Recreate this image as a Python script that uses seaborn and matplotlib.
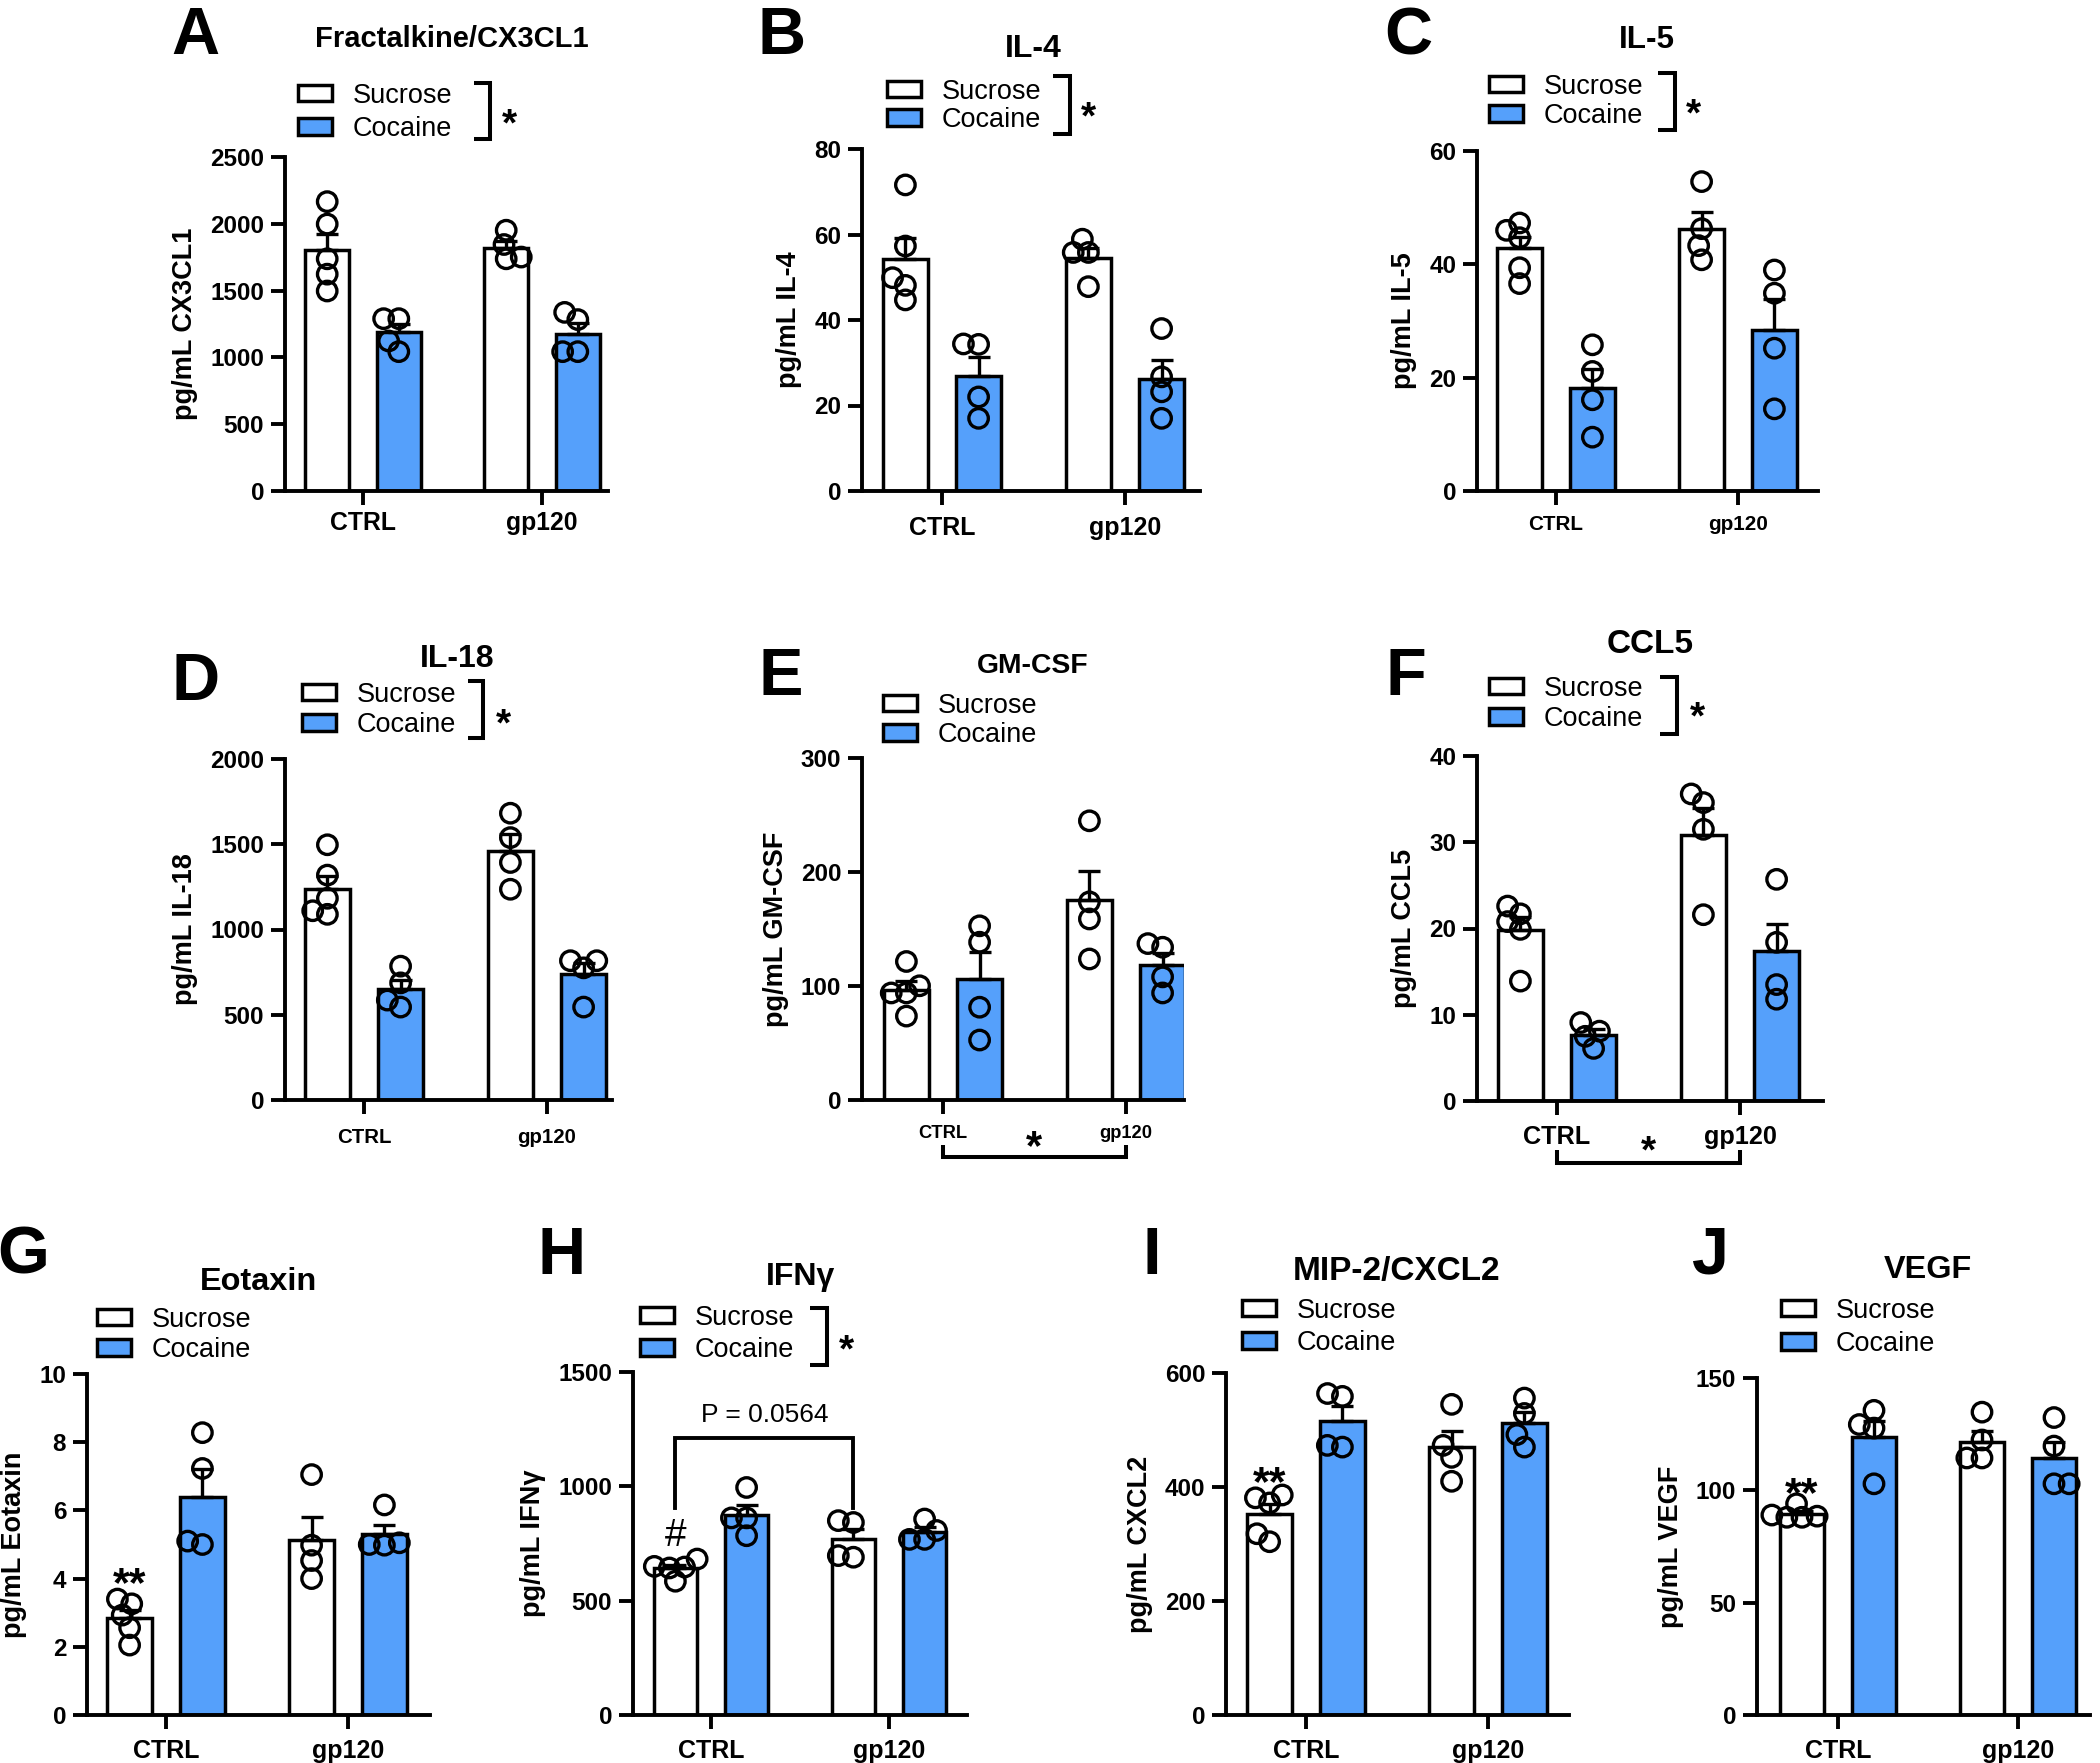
import numpy as np
import pandas as pd
import matplotlib
matplotlib.use("Agg")
import matplotlib.pyplot as plt
from matplotlib.lines import Line2D
from matplotlib.patches import Patch
from matplotlib.transforms import Affine2D, offset_copy, blended_transform_factory
import seaborn as sns

plt.rcParams["font.family"] = ["Liberation Sans", "DejaVu Sans"]
plt.rcParams["font.weight"] = "bold"
plt.rcParams["axes.labelweight"] = "bold"

W, H = 2100, 1763
BLUE = "#55A0FB"
groups = ["CTRL", "gp120"]
treatments = ["Sucrose", "Cocaine"]
palette = {"Sucrose": "white", "Cocaine": BLUE}

# individual animals: [CTRL points, gp120 points]
cx3cl1_sucrose = [[2166, 1998, 1738, 1623, 1497], [1845, 1952, 1738, 1751]]
cx3cl1_cocaine = [[1290, 1290, 1043, 1123], [1283, 1337, 1043, 1043]]
il4_sucrose = [[71.6, 57.3, 49.9, 48.1, 44.7], [58.9, 55.8, 55.8, 47.8]]
il4_cocaine = [[34.3, 34.4, 22.0, 17.0], [38.0, 26.7, 23.2, 17.0]]
il5_sucrose = [[47.3, 46.0, 44.7, 39.4, 36.6], [54.6, 46.3, 43.3, 40.8]]
il5_cocaine = [[25.8, 21.1, 16.1, 9.5], [39.0, 34.9, 25.2, 14.5]]
il18_sucrose = [[1497, 1319, 1183, 1089, 1110], [1682, 1539, 1393, 1236]]
il18_cocaine = [[785, 687, 545, 586], [817, 817, 775, 545]]
gmcsf_sucrose = [[121.5, 100.2, 93.9, 93.9, 73.6], [244.9, 173.8, 158.8, 123.7]]
gmcsf_cocaine = [[152.8, 138.4, 81.4, 52.6], [134.0, 137.2, 108.0, 93.9]]
ccl5_sucrose = [[22.6, 21.7, 20.8, 19.9, 13.9], [35.6, 34.6, 31.5, 21.6]]
ccl5_cocaine = [[9.1, 8.1, 7.5, 6.1], [25.7, 18.4, 13.5, 11.8]]
eotaxin_sucrose = [[3.4, 3.26, 2.93, 2.56, 2.05], [7.05, 4.98, 4.53, 4.0]]
eotaxin_cocaine = [[8.28, 7.23, 5.0, 5.1], [6.16, 5.0, 5.05, 4.98]]
ifng_sucrose = [[682, 650, 647, 643, 585], [842, 850, 690, 697]]
ifng_cocaine = [[995, 862, 862, 784], [857, 807, 768, 768]]
cxcl2_sucrose = [[386, 381, 372, 318, 304], [545, 473, 452, 410]]
cxcl2_cocaine = [[559, 564, 470, 473], [556, 529, 492, 470]]
vegf_sucrose = [[94, 89, 88.5, 88, 88], [134.8, 122.4, 114.4, 114.4]]
vegf_cocaine = [[135.6, 129.3, 127.7, 102.9], [132.4, 119.7, 102.9, 102.9]]

# layout, in reference pixels (from the top-left corner)
panels = [
    dict(letter="A", title="Fractalkine/CX3CL1", ylabel="pg/mL CX3CL1", sucrose=cx3cl1_sucrose, cocaine=cx3cl1_cocaine,
         ymax=2500, ystep=500, rect=(285, 157, 608, 491), cats=(363, 542), title_at=(452, 36.5, 21),
         letter_at=(195, 30), legend=(298, 112.5, 33), bracket=(490, 83, 139, 16, 509, 114), xtick=(17.8, 4.5)),
    dict(letter="B", title="IL-4", ylabel="pg/mL IL-4", sucrose=il4_sucrose, cocaine=il4_cocaine,
         ymax=80, ystep=20, rect=(862, 149, 1200, 491), cats=(942, 1125), title_at=(1033, 46, 23),
         letter_at=(782, 30), legend=(887, 106, 28), bracket=(1070, 76, 134, 17, 1088, 107), xtick=(18, 8)),
    dict(letter="C", title="IL-5", ylabel="pg/mL IL-5", sucrose=il5_sucrose, cocaine=il5_cocaine,
         ymax=60, ystep=20, rect=(1477, 151, 1818, 491), cats=(1556, 1738), title_at=(1647, 36.5, 22.6),
         letter_at=(1408, 31), legend=(1489, 101.5, 29), bracket=(1675, 73, 130, 17, 1693, 104), xtick=(14.9, 7)),
    dict(letter="D", title="IL-18", ylabel="pg/mL IL-18", sucrose=il18_sucrose, cocaine=il18_cocaine,
         ymax=2000, ystep=500, rect=(285, 759, 612, 1100), cats=(364, 547), title_at=(457, 656, 23),
         letter_at=(196, 676), legend=(302, 710, 30), bracket=(483, 681, 738, 15, 503, 714), xtick=(14.7, 10)),
    dict(letter="E", title="GM-CSF", ylabel="pg/mL GM-CSF", sucrose=gmcsf_sucrose, cocaine=gmcsf_cocaine,
         ymax=300, ystep=100, rect=(862, 758, 1184, 1100), cats=(943, 1126), title_at=(1033, 663, 20.4),
         letter_at=(781, 671), legend=(883, 720.5, 29), bracket=None, xtick=(13.2, 8),
         below=(1145, 1157, 1136, 30)),
    dict(letter="F", title="CCL5", ylabel="pg/mL CCL5", sucrose=ccl5_sucrose, cocaine=ccl5_cocaine,
         ymax=40, ystep=10, rect=(1477, 756, 1823, 1101), cats=(1557, 1740), title_at=(1650, 641, 24),
         letter_at=(1406, 671), legend=(1489, 704, 30), bracket=(1677, 677, 734, 17, 1697, 707), xtick=(18.2, 7),
         below=(1150, 1163, 1141, 28)),
    dict(letter="G", title="Eotaxin", ylabel="pg/mL Eotaxin", sucrose=eotaxin_sucrose, cocaine=eotaxin_cocaine,
         ymax=10, ystep=2, rect=(87, 1374, 430, 1715), cats=(166, 348), title_at=(258, 1278, 23.4),
         letter_at=(23, 1250), legend=(97, 1335, 30), bracket=None, xtick=(18, 7), stars=4.2),
    dict(letter="H", title="IFNγ", ylabel="pg/mL IFNγ", sucrose=ifng_sucrose, cocaine=ifng_cocaine,
         ymax=1500, ystep=500, rect=(633, 1372, 967, 1715), cats=(711, 889), title_at=(800, 1274, 23),
         letter_at=(562, 1250), legend=(640, 1334, 32), bracket=(827, 1308, 1365, 17, 846, 1340), xtick=(18, 7)),
    dict(letter="I", title="MIP-2/CXCL2", ylabel="pg/mL CXCL2", sucrose=cxcl2_sucrose, cocaine=cxcl2_cocaine,
         ymax=600, ystep=200, rect=(1226, 1373, 1569, 1715), cats=(1306, 1488), title_at=(1397, 1268, 24),
         letter_at=(1152, 1250), legend=(1242, 1327, 32), bracket=None, xtick=(18, 7), stars=428),
    dict(letter="J", title="VEGF", ylabel="pg/mL VEGF", sucrose=vegf_sucrose, cocaine=vegf_cocaine,
         ymax=150, ystep=50, rect=(1757, 1378, 2090, 1715), cats=(1838, 2018), title_at=(1928, 1266, 23.3),
         letter_at=(1710, 1250), legend=(1781, 1327.5, 33), bracket=None, xtick=(18, 7), stars=103.7),
]

MARKER = 14       # drawn circle size (pt)
SWARM_SIZE = 8    # size used while packing, so circles may overlap like in Prism

fig = plt.figure(figsize=(W / 100, H / 100), dpi=100)
px = Affine2D().scale(1 / W, -1 / H).translate(0, 1) + fig.transFigure
swarm_colls = []


def text_at(x, y, s, size, ink=0.358, weight="bold", transform=None):
    # y is where the middle of the glyphs should sit; ink = that middle above the baseline, in em
    tr = offset_copy(transform or px, fig=fig, y=-ink * size, units="points")
    return fig.text(x, y, s, transform=tr, fontsize=size, fontweight=weight, ha="center", va="baseline")


def to_frame(sucrose, cocaine):
    rows = []
    for treat, vals in zip(treatments, (sucrose, cocaine)):
        for g, pts in zip(groups, vals):
            rows += [(g, treat, v) for v in pts]
    return pd.DataFrame(rows, columns=["group", "treatment", "value"])


def draw_panel(p):
    l, t, r, b = p["rect"]
    ax = fig.add_axes([l / W, 1 - b / H, (r - l) / W, (b - t) / H])
    df = to_frame(p["sucrose"], p["cocaine"])

    sns.barplot(data=df, x="group", y="value", hue="treatment", order=groups, hue_order=treatments,
                palette=palette, saturation=1, errorbar=None, width=0.8, gap=0.39, edgecolor="black",
                linewidth=2.5, legend=False, ax=ax)

    # SEM, drawn upward only like GraphPad
    for container, vals in zip(ax.containers, (p["sucrose"], p["cocaine"])):
        for bar, pts in zip(container, vals):
            pts = np.asarray(pts, float)
            sem = pts.std(ddof=1) / np.sqrt(len(pts))
            xc = bar.get_x() + bar.get_width() / 2
            ax.errorbar(xc, bar.get_height(), yerr=[[0], [sem]], fmt="none", ecolor="black",
                        elinewidth=2.4, capsize=8, capthick=2.4, zorder=3)

    n0 = len(ax.collections)
    sns.swarmplot(data=df, x="group", y="value", hue="treatment", order=groups, hue_order=treatments,
                  dodge=True, palette=palette, size=SWARM_SIZE, edgecolor="black", linewidth=2.4,
                  legend=False, warn_thresh=1, ax=ax)
    for coll in ax.collections[n0:]:
        coll.set_facecolor("none")
        coll.set_zorder(4)
        swarm_colls.append(coll)

    ax.set_ylim(0, p["ymax"])
    ax.set_yticks(np.arange(0, p["ymax"] + p["ystep"] / 2, p["ystep"]))
    c0, c1 = p["cats"]
    ax.set_xlim((l - c0) / (c1 - c0), (r - c0) / (c1 - c0))
    ax.set_xlabel("")
    ax.set_ylabel(p["ylabel"], fontsize=19.5, labelpad=8.5)

    for side in ("top", "right"):
        ax.spines[side].set_visible(False)
    for side in ("left", "bottom"):
        ax.spines[side].set_linewidth(2.8)
    ax.tick_params(axis="both", width=2.8, length=10, color="black")
    ax.tick_params(axis="y", labelsize=17.5, pad=5)
    ax.tick_params(axis="x", labelsize=p["xtick"][0], pad=p["xtick"][1])

    # legend
    fs = 19.5
    fs_px = fs * 100 / 72
    lx, ly, rowd = p["legend"]
    handles = [Patch(facecolor=palette[tr], edgecolor="black", linewidth=2.5, label=tr) for tr in treatments]
    ax.legend(handles=handles, loc="center left", bbox_to_anchor=(lx / W, 1 - ly / H),
              bbox_transform=fig.transFigure, frameon=False, borderpad=0, borderaxespad=0,
              handlelength=34 / fs_px, handleheight=15 / fs_px, handletextpad=0.76,
              labelspacing=max(rowd - 25.5, 0) / fs_px, prop={"size": fs, "weight": "normal"})

    if p.get("bracket"):
        x, y0, y1, arm, sx, sy = p["bracket"]
        fig.add_artist(Line2D([x - arm, x, x, x - arm], [y0, y0, y1, y1], transform=px, color="black",
                              lw=2.9, solid_joinstyle="miter", solid_capstyle="butt"))
        text_at(sx, sy, "*", 28, ink=0.565)

    tx, ty, tsize = p["title_at"]
    text_at(tx, ty, p["title"], tsize)
    text_at(p["letter_at"][0], p["letter_at"][1], p["letter"], 48)

    suc_ctrl = ax.containers[0][0]
    x_suc_ctrl = suc_ctrl.get_x() + suc_ctrl.get_width() / 2

    if "below" in p:
        y_leg, y_bar, y_star, s_size = p["below"]
        tr = blended_transform_factory(ax.transData, px)
        fig.add_artist(Line2D([0, 0, 1, 1], [y_leg, y_bar, y_bar, y_leg], transform=tr, color="black",
                              lw=2.9, solid_joinstyle="miter", solid_capstyle="butt"))
        text_at(0.5, y_star, "*", s_size, ink=0.565, transform=tr)

    if "stars" in p:
        text_at(x_suc_ctrl, p["stars"], "**", 31, ink=0.565, transform=ax.transData)

    return ax


axes = [draw_panel(p) for p in panels]

# IFNγ: CTRL vs gp120 within sucrose
ax_h = axes[7]
b0, b1 = ax_h.containers[0][0], ax_h.containers[0][1]
x0 = b0.get_x() + b0.get_width() / 2
x1 = b1.get_x() + b1.get_width() / 2
ax_h.plot([x0, x0, x1, x1], [905, 1212, 1212, 905], color="black", lw=2.8,
          solid_joinstyle="miter", clip_on=False, zorder=5)
text_at((x0 + x1) / 2, 1324, "P = 0.0564", 19, weight="normal", transform=ax_h.transData)
text_at(x0, 799, "#", 28, ink=0.35, weight="normal", transform=ax_h.transData)

# pack the swarms with the smaller size, then freeze them and draw the circles full size
fig.canvas.draw()
for coll in swarm_colls:
    coll.__dict__.pop("draw", None)
    coll.set_sizes([MARKER ** 2])

fig.savefig("out.png", dpi=100)
